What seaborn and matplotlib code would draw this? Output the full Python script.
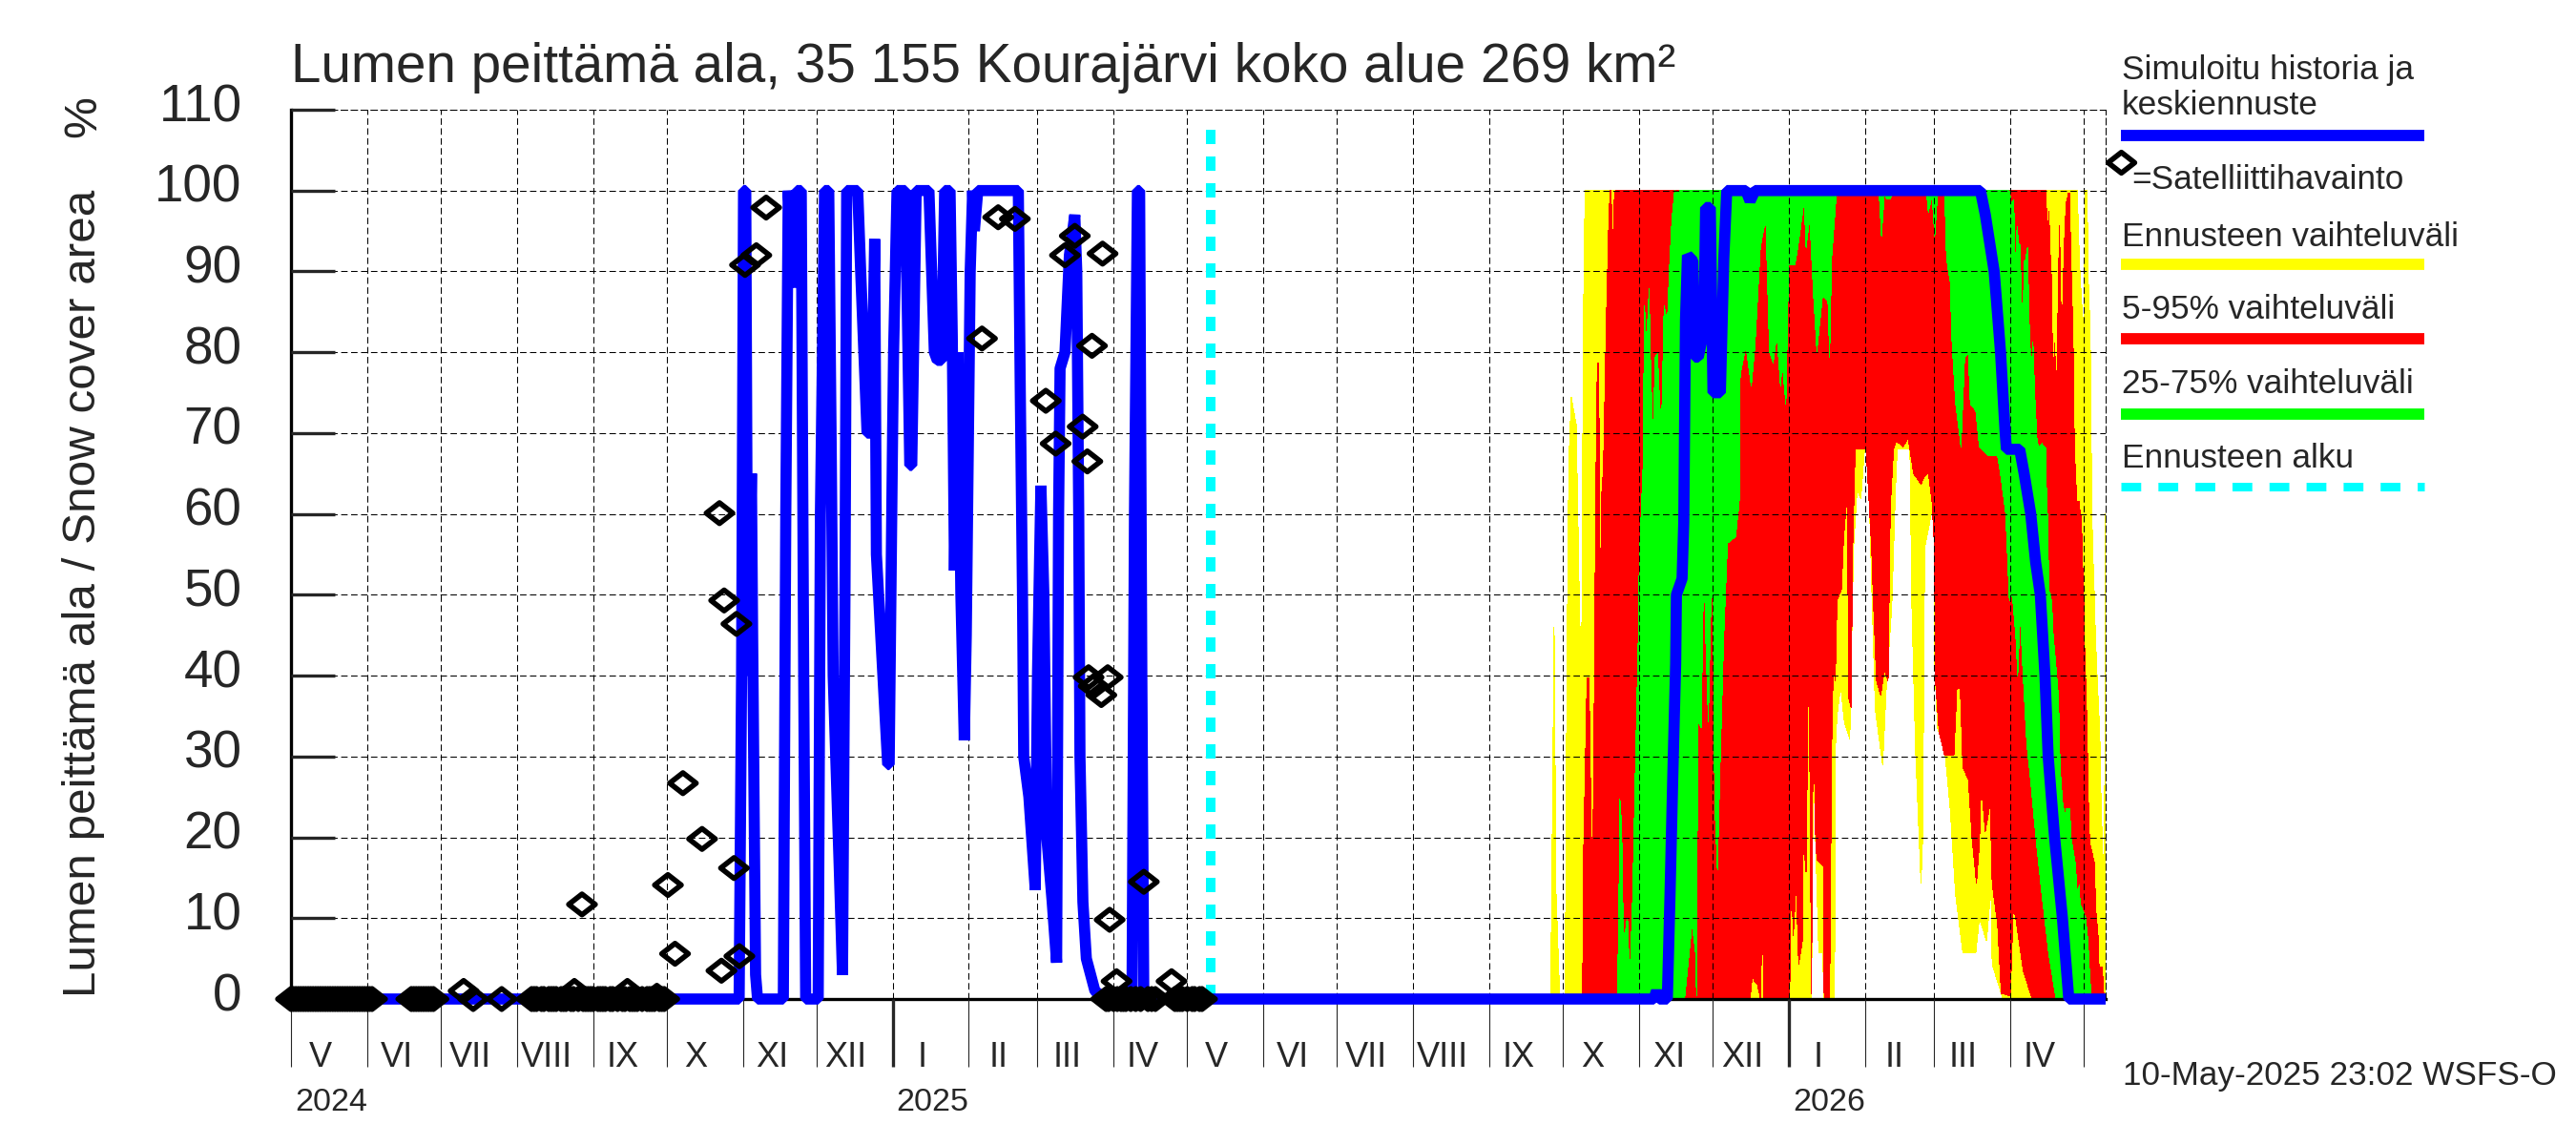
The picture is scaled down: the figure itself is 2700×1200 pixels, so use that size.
#!/usr/bin/env python3
"""
Snow cover area: simulated history, forecast ranges and satellite observations
"""

import numpy as np
import pandas as pd
import matplotlib
matplotlib.use("Agg")
import matplotlib.pyplot as plt
import seaborn as sns
from matplotlib.lines import Line2D
from matplotlib.path import Path
from matplotlib.transforms import ScaledTranslation

# ============================================================================
# Data (days counted from START, values in percent)
# ============================================================================
START = pd.Timestamp("2024-05-01")
END_DAY = 739
FORECAST_DAY = 374.4

sim_days = [0, 182.5, 183.5, 184.3, 185.2, 186, 187.5, 188, 189.2, 190, 200.5, 201.5, 202.5, 204.6, 206, 207.8,
            208.8, 209.6, 214.7, 215.6, 217.3, 219, 220, 220.8, 223.4, 224.6, 225.6, 226.3, 229.4, 230.8, 232,
            234.6, 236.4, 237.7, 238.4, 240.7, 243, 243.6, 245, 245.4, 246.8, 250.2, 252, 252.8, 254.6, 259.8,
            262, 263.2, 265, 266.2, 268.4, 269.3, 270.2, 271.6, 272.8, 274.2, 275, 276.6, 277.6, 278.3, 279.7,
            296.2, 297, 297.9, 298.4, 300.5, 303.1, 304, 305.4, 306.6, 307.8, 310, 311.8, 312.6, 313.2, 315.2,
            317, 319.2, 320, 320.8, 321.3, 322.5, 323.9, 327.4, 331.7, 342.5, 343.5, 344.7, 345.6, 346.5, 347.3,
            555, 556.1, 557.2, 560.5, 561.6, 562.7, 563.9, 564.2, 566.5, 567.2, 567.5, 567.9, 568.7, 570.9, 571.7,
            573.1, 575.4, 576.1, 578, 579.1, 582.1, 583.5, 584.7, 592.5, 594.2, 596.2, 688, 690, 693.6, 696.2,
            698.1, 698.6, 704, 705.8, 708.5, 710.5, 712.4, 714.3, 715.6, 718.2, 721.4, 724, 739]
sim_values = [0, 0, 40, 100, 100, 40, 65, 45, 3, 0, 0, 60, 100, 88, 100, 100,
              40, 0, 0, 60, 100, 100, 68, 40, 15, 3, 50, 100, 100, 100, 90,
              70, 70, 94, 55, 42, 29, 29, 70, 80, 100, 100, 66, 66, 100, 100,
              80, 79, 79, 100, 100, 82, 53, 80, 50, 32, 45, 90, 100, 95, 100,
              100, 75, 50, 30, 25, 13.5, 40, 63.5, 50, 20, 12, 4.5, 60, 78, 80,
              92, 97, 90, 60, 30, 12, 5, 1, 0, 0, 60, 100, 100, 40, 0,
              0, 1, 0, 0, 12.9, 27.2, 41.5, 50, 52, 59, 70, 84, 92, 91.3, 79.4,
              79.4, 82.7, 97.9, 97.9, 75, 75, 91.6, 100, 100, 98.7, 100, 100, 97, 90, 80,
              70, 68, 68, 65, 60, 54, 50, 40, 30, 20, 10, 0, 0]

sat_days = [70.3, 115.4, 118.5, 137, 149, 153.5, 156.4, 159.6, 167.4, 174.5, 175.3, 176.4,
            180.4, 181.4, 182.6, 184.9, 189.5, 193.5, 281.4, 288, 294.8, 307.4, 311.4, 315.2, 319.2, 322.4,
            324.3, 324.8, 326.2, 326.9, 330, 330.5, 332.6, 333.4, 336.2, 347.3, 358.6]
sat_values = [1, 1, 11.7, 1, 0.4, 14.1, 5.6, 26.7, 19.8, 60.1, 3.5, 49.3,
              16.2, 46.4, 5.3, 90.8, 92, 97.9, 81.7, 96.7, 96.5, 74, 68.7, 92, 94.4, 70.8,
              66.5, 39.8, 80.8, 38.7, 37.6, 92.2, 39.8, 9.8, 2.2, 14.5, 2.2]
# observations of no snow at all
sat_zero_days = [0, 1, 2, 3, 4, 5, 6, 7, 8, 9, 10, 11, 12, 13, 14, 15, 16, 17, 18, 19, 20, 21, 22, 23, 24, 25, 26, 27,
                 28, 29, 30, 31, 32, 33, 49, 50, 51, 52, 53, 54, 55, 56, 57, 58, 74.2, 85.8,
                 98, 99, 100, 102, 103, 105, 106, 107, 108, 110, 111, 112, 114, 115, 117, 119, 120, 121, 122, 123,
                 125, 126, 127, 128, 130, 131, 133, 135, 136, 138, 139, 140, 141, 143, 145, 146, 147, 148, 150, 151,
                 152, 332, 333, 335, 336.5, 338, 339, 340, 342, 344, 346, 349, 350.5, 352,
                 360, 361, 362, 363, 365, 367, 368, 370, 371]

yellow_up_days = [513, 513.7, 514.4, 515.2, 516.7, 518.9, 519.6, 520.4, 521.4, 523.4, 524.8, 525.6, 526.3, 527,
                  727.5, 727.9, 728.6, 729.6, 730.2, 730.8, 731.5, 731.8, 732.5, 732.8, 733.1, 733.4, 733.7, 734.4,
                  734.8, 735.7, 736.6, 737, 737.6, 738, 738.4, 738.9, 739]
yellow_up_values = [0, 22, 46, 13, 0, 0, 40, 66.5, 74.4, 71, 47, 41, 83, 100,
                    100, 95, 89.4, 84.3, 84.3, 100, 100, 90, 84.3, 80, 69.7, 60.6, 55.9, 50,
                    45.3, 38.6, 33.1, 26, 19.7, 16.6, 16.6, 39.8, 60]
yellow_lo_days = [513, 619.2, 620, 620.7, 622.2, 623.7, 624.4, 628.6, 628.9, 629.6, 631.1, 632.6, 634.8, 636.3,
                  637.8, 639.3, 640.8, 642.2, 643.7, 645.2, 648.2, 649.7, 651.9, 653.4, 654.1, 659.3, 660.1, 661.6,
                  663.8, 664.5, 665.3, 669, 669.4, 670.5, 673.5, 675.7, 677.9, 680.9, 686.1, 687.6, 690.5, 692.3,
                  692.8, 696.5, 697.2, 739]
yellow_lo_values = [0, 0, 30.8, 21.5, 5.7, 5.7, 0, 0, 30.8, 35.1, 38.7, 34.3, 32.2, 55.8,
                    63, 61.9, 68, 68, 51.5, 35.8, 29, 38.7, 48.6, 63, 68, 68, 48.6, 30.8,
                    14.3, 20, 55.8, 61.6, 41.5, 33.6, 30.8, 23.6, 12.9, 5.7, 5.7, 10, 7.2, 13.6,
                    4.3, 0.7, 0, 0]

red_up_days = [526, 526.3, 527.1, 527.8, 528.6, 528.9, 529.5, 530, 530.5, 531.1, 531.5, 532, 532.4, 532.7, 533.3,
               533.6, 534.5, 535.7, 536.7, 537.2, 537.6, 538.2, 539, 539.7,
               714.6, 715, 715.1, 715.9, 716.5, 716.9, 717.3, 717.9, 718.2, 718.6, 718.9, 719.2, 719.8, 720.2, 720.5,
               721.1, 721.6, 722.2, 722.9, 723.9, 724.4, 724.7, 725.3, 726, 726.2, 726.6, 727.3, 728.3, 728.6, 729,
               729.5, 729.9, 730.1, 730.5, 730.8, 731.5, 731.8, 732.5, 734.4, 735, 736.1, 736.3, 737.6, 738.3, 738.5]
red_up_values = [0, 16.5, 28.6, 39.7, 39.7, 33.6, 20.7, 16, 26.4, 51.5, 65.8, 78.7, 78.7, 71.5, 46.5,
                 61.5, 65.8, 84.4, 96.6, 100, 100, 92.3, 99.8, 100,
                 100, 97.2, 92.9, 97.4, 91.7, 89.4, 81.1, 78, 81.1, 78, 73.6, 78, 89, 95.7, 90.2,
                 80.3, 87, 93.5, 98.4, 99.7, 99.6, 93.3, 87, 77.6, 69.7, 65.8, 61.5, 61.5, 60, 59.8,
                 55.9, 50, 50, 42.5, 40, 33, 26.4, 19.3, 16.9, 11, 7.1, 4, 4, 0.4, 0]
red_lo_days = [526, 594.2, 595.1, 596.2, 597.2, 598, 598.4, 599.2, 599.9, 610.3, 611, 611.8, 613, 614, 615.5, 615.9,
               617, 618, 618.6, 619.2, 620, 620.7, 621.4, 624, 624.4, 626.6, 627.4, 628.1, 628.9, 629.6, 631.4,
               632.3, 633.8, 634.4, 635.3, 636, 637, 641.5, 643.7, 644.5, 645.7, 647.4, 648.9, 650.4, 651.3, 652.6,
               653.7, 656.4, 658.6, 660.8, 663.8, 665.3, 666.8, 668.3, 669.3, 669.7, 671.2, 673.5, 677.2, 678.4,
               679.8, 680.9, 683.1, 684.6, 686.4, 687.6, 688.3, 690, 692, 692.8, 695, 696.5, 700.2, 701.4, 702.4,
               705.4, 709.1, 738.5]
red_lo_values = [0, 0, 2.9, 2.1, 1.8, 0.7, 0, 10, 0, 0, 15.7, 7.9, 14.3, 4.3, 7.2, 20,
                 15.7, 42, 27, 0.7, 39, 21.5, 17.2, 16.5, 0, 0, 30.8, 41.5, 39.4, 49.3, 50.7,
                 57.2, 62.5, 37.2, 36.1, 56, 68, 68, 55.8, 48.6, 39.4, 37.6, 40.8, 39.4, 60.8, 68,
                 69.1, 68.3, 69.4, 65, 63.7, 64.7, 65.1, 61.5, 55.8, 39.4, 33, 30.1, 30.1, 38.4,
                 38.4, 28.6, 27.2, 20, 14.3, 19.3, 26.7, 20.7, 24.3, 14.3, 9.3, 0.7, 0.4, 11.4, 10,
                 3.6, 0, 0]

green_up_days = [540.2, 540.8, 541.2, 541.9, 542.5, 543.1, 543.7, 544.3, 545.2, 546.4, 547.4, 548.6, 549.1, 550.6,
                 551.2, 552, 553.1, 553.5, 554.6, 555.6, 556.5, 557.5, 558.3, 559.2, 560.5, 561.3, 562.4, 563.5, 565,
                 565.7, 699.7, 700.7, 701.6, 701.9, 702.4, 702.9, 703.7, 704.2, 704.6, 705.3, 705.8, 706.3, 707.2,
                 707.6, 708.1, 708.9, 709.4, 709.8, 710.2, 711.1, 711.7, 713, 714.6, 715, 715.4, 715.9, 716.7, 717.2,
                 717.6, 718.9, 719.8, 720.5, 721.1, 721.4, 722.4, 723.1, 724.4, 724.9, 726.6, 727.5, 728.3, 728.6,
                 729.6, 730.9, 731.8, 732.5, 733.1, 733.4]
green_up_values = [0, 12.9, 24.7, 21.5, 10, 6.4, 9.3, 10, 2.1, 12.9, 27.2, 43.6, 54.4, 65.8,
                   85.8, 80.8, 87.9, 80.8, 69.4, 79.4, 79.8, 73, 73, 85.8, 83.7, 90, 96.6, 100, 99.8,
                   100, 100, 98.4, 98.8, 94.1, 89.4, 95.5, 93.3, 93.3, 87.6, 82.7, 91.3, 91.3, 92.9,
                   87.4, 81.1, 78.4, 81.3, 77.6, 74.4, 68.9, 68.3, 68.7, 68.1, 61.8, 59.5, 50.4, 50, 48,
                   45.3, 40.6, 37.4, 28.4, 26, 24.4, 22.8, 23.6, 23.6, 20, 16.9, 13, 14.1, 11.8,
                   11, 10, 7.1, 3.2, 0.4, 0]
green_lo_days = [540.2, 567.5, 569.4, 570.6, 572, 572.4, 572.8, 573.1, 574.3, 575.4, 576.1, 577.2, 578.3, 579.1,
                 579.8, 580.9, 582.1, 583.5, 585, 588.3, 589.8, 590.2, 592.5, 594.7, 596.2, 598.4, 600.6, 602.1,
                 603.6, 605.1, 606.6, 607.3, 608.8, 609.9, 612.5, 614, 616.2, 617, 618.5, 620, 621.4, 623.7, 625.9,
                 626.6, 627.4, 629.3, 631.1, 646.7, 647.7, 648.9, 649.7, 651.2, 651.9, 653.4, 666, 666.8, 668.3,
                 669.4, 670.5, 673.5, 674.2, 675.7, 676.4, 677.9, 680.1, 681.6, 683.1, 683.9, 686.1, 687.6, 691.3,
                 695, 696.5, 698.3, 699.8, 701, 702.4, 703.2, 704.2, 705.4, 706.9, 708.4, 710.6, 712.8, 715.8,
                 718.8, 733.4]
green_lo_values = [0, 0, 5.7, 9.3, 5.7, 0.4, 27, 34.3, 33.6, 55, 45, 34.3, 49.4, 50.1,
                   24.3, 16, 30.1, 45, 56.4, 57.2, 61.5, 77.3, 80.8, 75.8, 80.8, 93, 96.6, 80.1,
                   78.7, 82.2, 75.8, 78.7, 73.6, 90.8, 90.8, 93.7, 98.7, 93, 96.6, 87.3, 80.1, 87, 86.3,
                   79.4, 91.6, 99.4, 100, 100, 94.4, 99.5, 99, 99, 99.4, 100, 100, 97.3, 99.4,
                   94.4, 99.4, 99.4, 91.6, 88.7, 81.6, 73.7, 68.3, 79.4, 79.8, 73.6, 72.8, 68.3, 67.2,
                   67.2, 64.3, 60, 49.3, 50, 45, 40, 47.5, 40, 31.5, 27.2, 20, 13.6, 5.7,
                   0, 0]

y_ticks = [0, 10, 20, 30, 40, 50, 60, 70, 80, 90, 100, 110]
month_labels = ["V", "VI", "VII", "VIII", "IX", "X", "XI", "XII", "I", "II", "III", "IV"] * 2
year_labels = ["2024", "2025", "2026"]

# Colours
BLUE = "#0000ff"
YELLOW = "#ffff00"
RED = "#ff0000"
GREEN = "#00ff00"
CYAN = "#00ffff"

FONT = ["Liberation Sans", "DejaVu Sans"]
W, H = 2700.0, 1200.0
GRID_DASH = (0, (6.5, 3.5))


def to_dates(days):
    return START + pd.to_timedelta(np.asarray(days, dtype=float), unit="D")


def draw_band(ax, up_days, up_values, lo_days, lo_values, color, zorder):
    xs = to_dates(list(up_days) + list(lo_days)[::-1])
    ys = list(up_values) + list(lo_values)[::-1]
    ax.fill(xs, ys, color=color, linewidth=0, antialiased=False, zorder=zorder)


def fx(px):
    return px / W


def fy(px):
    return 1 - px / H


def main():
    sns.set_style("white")
    plt.rcParams["font.family"] = FONT

    fig = plt.figure(figsize=(27, 12), dpi=100, facecolor="white")
    ax = fig.add_axes([fx(305), fy(1047), 1902 / W, 932 / H])

    # Forecast ranges
    draw_band(ax, yellow_up_days, yellow_up_values, yellow_lo_days, yellow_lo_values, YELLOW, 1.0)
    draw_band(ax, red_up_days, red_up_values, red_lo_days, red_lo_values, RED, 1.1)
    draw_band(ax, green_up_days, green_up_values, green_lo_days, green_lo_values, GREEN, 1.2)

    # Forecast start
    ax.plot(to_dates([FORECAST_DAY, FORECAST_DAY]), [0, 108.8], color=CYAN, linewidth=7.2,
            linestyle=(0, (1.5, 1.3)), dash_capstyle="butt", zorder=3)

    # Simulated history and mean forecast
    sim = pd.DataFrame({"date": to_dates(sim_days), "value": sim_values})
    sns.lineplot(data=sim, x="date", y="value", ax=ax, color=BLUE, linewidth=8.4, estimator=None,
                 solid_joinstyle="bevel", solid_capstyle="butt", clip_on=False, zorder=4)

    # Satellite observations
    diamond = Path([(-1, 0), (0, 0.78), (1, 0), (0, -0.78), (-1, 0)], closed=True)
    sat = pd.DataFrame({"date": to_dates(sat_days + sat_zero_days),
                        "value": sat_values + [0] * len(sat_zero_days)})
    sns.scatterplot(data=sat, x="date", y="value", ax=ax, marker=diamond, s=400, facecolor="none",
                    edgecolor="black", linewidth=4.0, clip_on=False, zorder=5)

    # Axes
    ax.set_xlim(START, START + pd.Timedelta(days=END_DAY))
    ax.set_ylim(0, 110)
    ax.set_xlabel("")
    ax.set_ylabel("")

    month_starts = pd.date_range(START, periods=25, freq="MS")
    ax.set_xticks(month_starts)
    ax.set_xticklabels([])
    ax.set_yticks(y_ticks)
    ax.set_yticklabels([str(v) for v in y_ticks], fontsize=39.5)

    ax.set_axisbelow(False)
    ax.grid(True, color="black", linewidth=0.75, linestyle=GRID_DASH)
    ax.tick_params(axis="y", direction="in", length=33, width=2.4, pad=37, left=True, labelleft=True)
    ax.tick_params(axis="x", direction="out", length=51, width=0.8, bottom=True)

    shift = ScaledTranslation(0, 8 / 100, fig.dpi_scale_trans)
    for label in ax.get_yticklabels():
        label.set_transform(label.get_transform() + shift)

    # Heavier ticks at the turn of the year
    for tick, date in zip(ax.xaxis.get_major_ticks(), month_starts):
        if date.month == 1:
            tick.tick1line.set_markeredgewidth(2.4)

    for side in ["left", "bottom"]:
        ax.spines[side].set_linewidth(2.4)
        ax.spines[side].set_color("black")
    for side in ["top", "right"]:
        ax.spines[side].set_visible(True)
        ax.spines[side].set_linewidth(0.75)
        ax.spines[side].set_color("black")
        ax.spines[side].set_linestyle(GRID_DASH)

    # Month and year labels
    for date, label in zip(month_starts, month_labels):
        ax.annotate(label, xy=(date + pd.Timedelta(days=12), 0), xytext=(0, -44), textcoords="offset points",
                    ha="center", va="center", fontsize=26, annotation_clip=False)
    for date, label in zip([month_starts[0], month_starts[8], month_starts[20]], year_labels):
        ax.annotate(label, xy=(date, 0), xytext=(3, -78), textcoords="offset points",
                    ha="left", va="center", fontsize=24.5, annotation_clip=False)

    # Title and axis text
    fig.text(fx(305), fy(86), "Lumen peittämä ala, 35 155 Kourajärvi koko alue 269 km²", fontsize=40.75,
             ha="left", va="baseline")
    fig.text(fx(100), fy(621.5), "Lumen peittämä ala / Snow cover area", fontsize=35.6, rotation=90,
             ha="center", va="baseline", rotation_mode="anchor")
    fig.text(fx(100), fy(122), "%", fontsize=35.6, rotation=90, ha="center", va="baseline", rotation_mode="anchor")

    # Legend, laid out by hand in the margin
    legend_size = 25.4
    x0, x1 = fx(2223), fx(2541)
    for y, text in [(74, "Simuloitu historia ja"), (110, "keskiennuste"), (248, "Ennusteen vaihteluväli"),
                    (324, "5-95% vaihteluväli"), (402, "25-75% vaihteluväli"), (480, "Ennusteen alku")]:
        fig.text(fx(2224), fy(y), text, fontsize=legend_size, ha="left", va="center")
    fig.text(fx(2234), fy(188), "=Satelliittihavainto", fontsize=legend_size, ha="left", va="center")
    for y, color in [(142, BLUE), (277, YELLOW), (355, RED), (434, GREEN)]:
        fig.add_artist(Line2D([x0, x1], [fy(y), fy(y)], color=color, linewidth=8.5,
                              solid_capstyle="butt", transform=fig.transFigure))
    fig.add_artist(Line2D([x0, x1], [fy(510), fy(510)], color=CYAN, linewidth=6.5, dash_capstyle="butt",
                          linestyle=(0, (2.3, 2.0)), transform=fig.transFigure))
    fig.add_artist(Line2D([fx(2223)], [fy(170)], marker=diamond, markersize=20, markerfacecolor="none",
                          markeredgecolor="black", markeredgewidth=4.0, linestyle="none",
                          transform=fig.transFigure))

    fig.text(fx(2225), fy(1128), "10-May-2025 23:02 WSFS-O", fontsize=25.3, ha="left", va="center")

    fig.savefig("out.png", dpi=100)
    plt.close(fig)


if __name__ == "__main__":
    main()
